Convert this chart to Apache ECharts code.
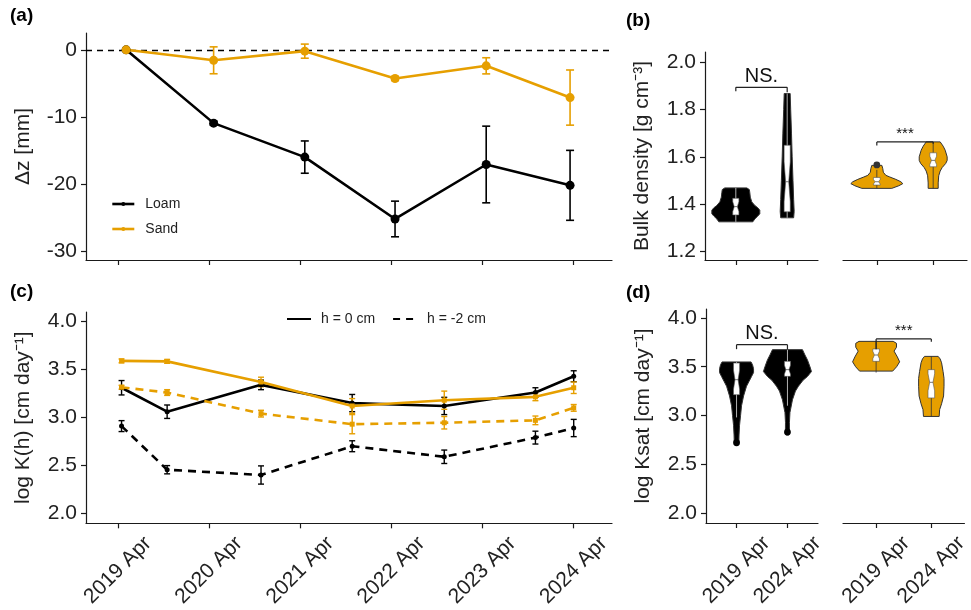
<!DOCTYPE html>
<html><head><meta charset="utf-8">
<script src="https://cdn.jsdelivr.net/npm/echarts@6/dist/echarts.min.js"></script>
<style>html,body{margin:0;padding:0;background:#fff}#c{width:971px;height:610px}</style>
</head><body><div id="c"></div>
<script>
// ---------- DATA ----------
// time axis: years since 2019 Apr
const yearTicks = [0, 1, 2, 3, 4, 5];
const yearLabels = ['2019 Apr', '2020 Apr', '2021 Apr', '2022 Apr', '2023 Apr', '2024 Apr'];
const dzTicks = [-30, -20, -10, 0];
const logTicks = [2.0, 2.5, 3.0, 3.5, 4.0];
const bdTicks = [1.2, 1.4, 1.6, 1.8, 2.0];
const facetTicks = [1, 2];
const facetLabels = ['2019 Apr', '2024 Apr'];

// (a) surface change
const dzTimes = [0.09, 1.05, 2.05, 3.04, 4.04, 4.96];
const dzLoam = [0, -10.9, -15.95, -25.15, -17.05, -20.15];
const dzLoamErr = [0, 0.3, 2.4, 2.65, 5.7, 5.2];
const dzSand = [0, -1.56, -0.2, -4.27, -2.38, -7.1];
const dzSandErr = [0, 2.0, 1.05, 0.3, 1.2, 4.1];

// (c) log K(h)
const khTimes = [0.04, 0.54, 1.57, 2.57, 3.58, 4.58, 5.0];
const khLoam0 = [3.31, 3.06, 3.34, 3.15, 3.12, 3.26, 3.43];
const khLoam0Err = [0.075, 0.07, 0.05, 0.09, 0.09, 0.05, 0.057];
const khSand0 = [3.59, 3.585, 3.37, 3.12, 3.18, 3.215, 3.31];
const khSand0Err = [0.02, 0.02, 0.05, 0.077, 0.095, 0.04, 0.06];
const khLoam2 = [2.91, 2.455, 2.40, 2.70, 2.59, 2.79, 2.89];
const khLoam2Err = [0.057, 0.043, 0.095, 0.057, 0.07, 0.067, 0.09];
const khSand2 = [3.315, 3.26, 3.04, 2.93, 2.945, 2.97, 3.10];
const khSand2Err = [0.02, 0.03, 0.035, 0.1, 0.065, 0.045, 0.035];

// (b) bulk density violins: profile values and half-widths (category units)
const bdLoam2019Y = [1.469, 1.462, 1.45, 1.43, 1.41, 1.395, 1.385, 1.375, 1.36, 1.35, 1.338, 1.326];
const bdLoam2019W = [0.214, 0.263, 0.272, 0.282, 0.311, 0.37, 0.428, 0.467, 0.467, 0.428, 0.37, 0.331];
const bdLoam2024Y = [1.867, 1.80, 1.70, 1.60, 1.50, 1.42, 1.37, 1.343];
const bdLoam2024W = [0.058, 0.068, 0.084, 0.097, 0.113, 0.126, 0.136, 0.126];
const bdSand2019Y = [1.564, 1.55, 1.535, 1.522, 1.515, 1.505, 1.495, 1.487, 1.478, 1.467];
const bdSand2019W = [0.089, 0.106, 0.115, 0.16, 0.23, 0.337, 0.426, 0.461, 0.39, 0.266];
const bdSand2024Y = [1.663, 1.645, 1.628, 1.60, 1.585, 1.572, 1.555, 1.54, 1.52, 1.49, 1.467];
const bdSand2024W = [0.124, 0.177, 0.213, 0.248, 0.248, 0.222, 0.16, 0.124, 0.098, 0.089, 0.089];
// box stats: [whisker low, q1, median, q3, whisker high]
const bdLoam2019Box = [1.326, 1.355, 1.39, 1.425, 1.469];
const bdLoam2024Box = [1.343, 1.368, 1.495, 1.649, 1.867];
const bdSand2019Box = [1.467, 1.481, 1.495, 1.513, 1.545];
const bdSand2024Box = [1.467, 1.558, 1.585, 1.617, 1.663];
const bdLoam2019Out = [];
const bdLoam2024Out = [];
const bdSand2019Out = [1.566];
const bdSand2024Out = [];
const bdSigText = ['NS.', '***'];
const bdSigY = [1.893, 1.663];
const bdSigLegL = [1.876, 1.648];
const bdSigLegR = [1.872, 1.655];

// (d) log Ksat violins
const ksLoam2019Y = [3.549, 3.52, 3.48, 3.44, 3.40, 3.35, 3.30, 3.20, 3.10, 3.00, 2.90, 2.80, 2.72, 2.70];
const ksLoam2019W = [0.285, 0.314, 0.334, 0.334, 0.295, 0.246, 0.196, 0.138, 0.098, 0.079, 0.059, 0.049, 0.045, 0.03];
const ksLoam2024Y = [3.675, 3.62, 3.57, 3.50, 3.45, 3.40, 3.36, 3.30, 3.25, 3.16, 3.03, 2.93, 2.85, 2.80];
const ksLoam2024W = [0.295, 0.344, 0.393, 0.442, 0.472, 0.393, 0.305, 0.216, 0.157, 0.098, 0.049, 0.039, 0.04, 0.03];
const ksSand2019Y = [3.76, 3.74, 3.70, 3.66, 3.60, 3.55, 3.50, 3.455];
const ksSand2019W = [0.31, 0.369, 0.369, 0.325, 0.385, 0.426, 0.372, 0.30];
const ksSand2024Y = [3.606, 3.58, 3.54, 3.45, 3.38, 3.30, 3.20, 3.12, 3.06, 2.99];
const ksSand2024W = [0.124, 0.16, 0.186, 0.213, 0.23, 0.23, 0.222, 0.186, 0.151, 0.142];
const ksLoam2019Box = [2.98, 3.213, 3.367, 3.538, 3.549];
const ksLoam2024Box = [3.10, 3.401, 3.47, 3.555, 3.675];
const ksSand2019Box = [3.44, 3.555, 3.62, 3.682, 3.76];
const ksSand2024Box = [2.99, 3.18, 3.34, 3.47, 3.606];
const ksLoam2019Out = [2.72];
const ksLoam2024Out = [2.83];
const ksSand2019Out = [];
const ksSand2024Out = [];
const ksSigText = ['NS.', '***'];
const ksSigY = [3.726, 3.785];
const ksSigLegL = [3.68, 3.68];
const ksSigLegR = [3.676, 3.755];

// ---------- STYLE ----------
const FONT = '"Liberation Sans", Arial, sans-serif';
const ORANGE = '#E69F00';
const INK = '#1a1a1a';
const LBL = '#222';

const chart = echarts.init(document.getElementById('c'), null, {renderer: 'canvas'});

function xTime(grid, showLabels) {
  return {
    type: 'value', gridIndex: grid, min: -0.35, max: 5.42,
    splitLine: {show: false},
    axisLine: {show: true, onZero: false, lineStyle: {color: INK, width: 1.2}},
    axisTick: {show: true, customValues: yearTicks, length: 5, lineStyle: {color: INK, width: 1.2}},
    axisLabel: {show: showLabels, customValues: yearTicks, rotate: 45, align: 'center', verticalAlign: 'middle',
      margin: 47, fontSize: 21, color: LBL, fontFamily: FONT,
      formatter: v => yearLabels[yearTicks.indexOf(Math.round(v))]}
  };
}
function xFacet(grid, showLabels) {
  return {
    type: 'value', gridIndex: grid, min: 0.4, max: 2.6,
    splitLine: {show: false},
    axisLine: {show: true, onZero: false, lineStyle: {color: INK, width: 1.2}},
    axisTick: {show: true, customValues: facetTicks, length: 5, lineStyle: {color: INK, width: 1.2}},
    axisLabel: {show: showLabels, customValues: facetTicks, rotate: 45, align: 'center', verticalAlign: 'middle',
      margin: 47, fontSize: 21, color: LBL, fontFamily: FONT,
      formatter: v => facetLabels[facetTicks.indexOf(Math.round(v))]}
  };
}
function yAx(grid, min, max, ticks, name, fmt, show) {
  return {
    type: 'value', gridIndex: grid, min: min, max: max, show: show !== false,
    name: name, nameLocation: 'middle', nameGap: 52, nameRotate: 90,
    nameTextStyle: {fontSize: 21, color: LBL, fontFamily: FONT},
    splitLine: {show: false},
    axisLine: {show: true, onZero: false, lineStyle: {color: INK, width: 1.2}},
    axisTick: {show: true, customValues: ticks, length: 5, lineStyle: {color: INK, width: 1.2}},
    axisLabel: {customValues: ticks, fontSize: 21, color: LBL, fontFamily: FONT, margin: 9, formatter: fmt}
  };
}

function errSeries(xi, yi, times, vals, errs, color, cap, lw) {
  const data = [];
  times.forEach((t, i) => { if (errs[i] > 0) data.push([t, vals[i] - errs[i], vals[i] + errs[i]]); });
  return {
    type: 'custom', xAxisIndex: xi, yAxisIndex: yi, silent: true, z: 3,
    encode: {x: 0, y: [1, 2]}, data: data,
    renderItem: function (params, api) {
      const x = api.value(0), lo = api.value(1), hi = api.value(2);
      const p1 = api.coord([x, lo]), p2 = api.coord([x, hi]);
      const st = {stroke: color, lineWidth: lw};
      return {type: 'group', children: [
        {type: 'line', shape: {x1: p1[0], y1: p1[1], x2: p2[0], y2: p2[1]}, style: st},
        {type: 'line', shape: {x1: p1[0] - cap, y1: p1[1], x2: p1[0] + cap, y2: p1[1]}, style: st},
        {type: 'line', shape: {x1: p2[0] - cap, y1: p2[1], x2: p2[0] + cap, y2: p2[1]}, style: st}
      ]};
    }
  };
}

function lineSeries(name, xi, yi, times, vals, color, dash, symbol, size, lw, extra) {
  return Object.assign({
    name: name, type: 'line', xAxisIndex: xi, yAxisIndex: yi, z: 4,
    data: times.map((t, i) => [t, vals[i]]),
    symbol: symbol, symbolSize: size, showSymbol: true,
    lineStyle: {color: color, width: lw, type: dash},
    itemStyle: {color: color},
    emphasis: {disabled: true}
  }, extra || {});
}

function violinSeries(xi, yi, violins, fill, whisk) {
  return {
    type: 'custom', xAxisIndex: xi, yAxisIndex: yi, silent: true, z: 2,
    encode: {x: 0}, data: violins.map((v, i) => [facetTicks[i], i]),
    renderItem: function (params, api) {
      const x = api.value(0), v = violins[api.value(1)];
      const pts = [];
      for (let k = 0; k < v.y.length; k++) pts.push(api.coord([x - v.w[k], v.y[k]]));
      for (let k = v.y.length - 1; k >= 0; k--) pts.push(api.coord([x + v.w[k], v.y[k]]));
      const b = v.box, h = 0.06;
      const iq = b[3] - b[1], nd = Math.min(iq * 0.3, (b[2] - b[1]), (b[3] - b[2]));
      const bp = [
        [x - h, b[1]], [x - h, b[2] - nd], [x - h / 2, b[2]], [x - h, b[2] + nd], [x - h, b[3]],
        [x + h, b[3]], [x + h, b[2] + nd], [x + h / 2, b[2]], [x + h, b[2] - nd], [x + h, b[1]]
      ].map(p => api.coord(p));
      const wl = api.coord([x, b[0]]), wh = api.coord([x, b[4]]);
      const m1 = api.coord([x - h / 2, b[2]]), m2 = api.coord([x + h / 2, b[2]]);
      const children = [
        {type: 'polygon', shape: {points: pts}, style: {fill: fill, stroke: '#333', lineWidth: 1}},
        {type: 'line', shape: {x1: wl[0], y1: wl[1], x2: wh[0], y2: wh[1]}, style: {stroke: whisk, lineWidth: 0.8}},
        {type: 'polygon', shape: {points: bp}, style: {fill: '#fff', stroke: '#555', lineWidth: 0.6}},
        {type: 'line', shape: {x1: m1[0], y1: m1[1], x2: m2[0], y2: m2[1]}, style: {stroke: '#555', lineWidth: 0.8}}
      ];
      v.out.forEach(o => {
        const c = api.coord([x, o]);
        children.push({type: 'circle', shape: {cx: c[0], cy: c[1], r: 3.4}, style: {fill: fill === '#000' ? '#000' : '#333'}});
      });
      return {type: 'group', children: children};
    }
  };
}

function sigSeries(xi, yi, k, texts, ys, legL, legR, fontSize) {
  return {
    type: 'custom', xAxisIndex: xi, yAxisIndex: yi, silent: true, z: 6,
    encode: {x: 0}, data: [[facetTicks[0], k]],
    renderItem: function (params, api) {
      const i = api.value(1);
      const a = api.coord([facetTicks[0], ys[i]]), b = api.coord([facetTicks[1], ys[i]]);
      const la = api.coord([facetTicks[0], legL[i]]), lb = api.coord([facetTicks[1], legR[i]]);
      const st = {stroke: '#222', lineWidth: 1.2};
      return {type: 'group', children: [
        {type: 'line', shape: {x1: a[0], y1: a[1], x2: b[0], y2: b[1]}, style: st},
        {type: 'line', shape: {x1: a[0], y1: a[1], x2: la[0], y2: la[1]}, style: st},
        {type: 'line', shape: {x1: b[0], y1: b[1], x2: lb[0], y2: lb[1]}, style: st},
        {type: 'text', x: (a[0] + b[0]) / 2, y: a[1] - 1,
          style: {text: texts[i], fill: '#111', font: fontSize + 'px ' + FONT, align: 'center', verticalAlign: 'bottom'}}
      ]};
    }
  };
}

const bdLoamV = [
  {y: bdLoam2019Y, w: bdLoam2019W, box: bdLoam2019Box, out: bdLoam2019Out},
  {y: bdLoam2024Y, w: bdLoam2024W, box: bdLoam2024Box, out: bdLoam2024Out}];
const bdSandV = [
  {y: bdSand2019Y, w: bdSand2019W, box: bdSand2019Box, out: bdSand2019Out},
  {y: bdSand2024Y, w: bdSand2024W, box: bdSand2024Box, out: bdSand2024Out}];
const ksLoamV = [
  {y: ksLoam2019Y, w: ksLoam2019W, box: ksLoam2019Box, out: ksLoam2019Out},
  {y: ksLoam2024Y, w: ksLoam2024W, box: ksLoam2024Box, out: ksLoam2024Out}];
const ksSandV = [
  {y: ksSand2019Y, w: ksSand2019W, box: ksSand2019Box, out: ksSand2019Out},
  {y: ksSand2024Y, w: ksSand2024W, box: ksSand2024Box, out: ksSand2024Out}];

const one = v => v.toFixed(1);

const option = {
  animation: false,
  backgroundColor: '#fff',
  textStyle: {fontFamily: FONT},
  grid: [
    {left: 86, top: 33, width: 526, height: 227},
    {left: 86, top: 312, width: 526, height: 212},
    {left: 705, top: 52, width: 113, height: 208},
    {left: 843, top: 52, width: 124, height: 208},
    {left: 706, top: 309, width: 112, height: 214},
    {left: 843, top: 309, width: 124, height: 214}
  ],
  xAxis: [xTime(0, false), xTime(1, true), xFacet(2, false), xFacet(3, false), xFacet(4, true), xFacet(5, true)],
  yAxis: [
    yAx(0, -31.25, 2.5, dzTicks, 'Δz [mm]', v => String(Math.round(v))),
    yAx(1, 1.896, 4.1, logTicks, 'log K(h) [cm day⁻¹]', one),
    yAx(2, 1.165, 2.042, bdTicks, 'Bulk density [g cm⁻³]', one),
    yAx(3, 1.165, 2.042, bdTicks, '', one, false),
    yAx(4, 1.897, 4.092, logTicks, 'log Ksat [cm day⁻¹]', one),
    yAx(5, 1.897, 4.092, logTicks, '', one, false)
  ],
  legend: [
    {data: ['Loam', 'Sand'], orient: 'vertical', left: 106, top: 192, itemWidth: 22, itemHeight: 5, itemGap: 11,
      lineStyle: {width: 2.6},
      textStyle: {fontSize: 14, color: LBL, fontFamily: FONT, padding: [0, 0, 0, 6]}, selectedMode: false},
    {data: ['h = 0 cm', 'h = -2 cm'], orient: 'horizontal', left: 281, top: 307, itemWidth: 24, itemHeight: 14, itemGap: 17,
      itemStyle: {opacity: 0},
      textStyle: {fontSize: 14, color: LBL, fontFamily: FONT, padding: [0, 0, 0, 5]}, selectedMode: false}
  ],
  series: [
    lineSeries('Loam', 0, 0, dzTimes, dzLoam, '#000', 'solid', 'circle', 9, 2.6, {
      markLine: {silent: true, symbol: 'none', label: {show: false}, z: 1,
        lineStyle: {color: '#000', type: [6, 5], width: 1.3}, data: [{yAxis: 0}]}
    }),
    lineSeries('Sand', 0, 0, dzTimes, dzSand, ORANGE, 'solid', 'circle', 9, 2.6),
    errSeries(0, 0, dzTimes, dzLoam, dzLoamErr, '#000', 4, 1.6),
    errSeries(0, 0, dzTimes, dzSand, dzSandErr, ORANGE, 4, 1.6),

    lineSeries('Loam0', 1, 1, khTimes, khLoam0, '#000', 'solid', 'circle', 5, 2.6),
    lineSeries('Loam2', 1, 1, khTimes, khLoam2, '#000', [8, 6], 'circle', 5, 2.6),
    lineSeries('Sand2', 1, 1, khTimes, khSand2, ORANGE, [8, 6], 'rect', 5, 2.6),
    lineSeries('Sand0', 1, 1, khTimes, khSand0, ORANGE, 'solid', 'rect', 5, 2.6),
    errSeries(1, 1, khTimes, khLoam0, khLoam0Err, '#000', 3, 1.4),
    errSeries(1, 1, khTimes, khLoam2, khLoam2Err, '#000', 3, 1.4),
    errSeries(1, 1, khTimes, khSand0, khSand0Err, ORANGE, 3, 1.4),
    errSeries(1, 1, khTimes, khSand2, khSand2Err, ORANGE, 3, 1.4),
    {name: 'h = 0 cm', type: 'line', xAxisIndex: 1, yAxisIndex: 1, data: [], symbol: 'none',
      lineStyle: {color: '#000', width: 3, type: 'solid'}, itemStyle: {color: '#000'}},
    {name: 'h = -2 cm', type: 'line', xAxisIndex: 1, yAxisIndex: 1, data: [], symbol: 'none',
      lineStyle: {color: '#000', width: 3, type: [7, 6]}, itemStyle: {color: '#000'}},

    violinSeries(2, 2, bdLoamV, '#000', '#ddd'),
    violinSeries(3, 3, bdSandV, ORANGE, '#333'),
    violinSeries(4, 4, ksLoamV, '#000', '#ddd'),
    violinSeries(5, 5, ksSandV, ORANGE, '#333'),
    sigSeries(2, 2, 0, bdSigText, bdSigY, bdSigLegL, bdSigLegR, 20),
    sigSeries(3, 3, 1, bdSigText, bdSigY, bdSigLegL, bdSigLegR, 15),
    sigSeries(4, 4, 0, ksSigText, ksSigY, ksSigLegL, ksSigLegR, 20),
    sigSeries(5, 5, 1, ksSigText, ksSigY, ksSigLegL, ksSigLegR, 15)
  ],
  graphic: [
    {type: 'text', left: 10, top: 6, style: {text: '(a)', font: 'bold 19px ' + FONT, fill: '#000'}},
    {type: 'text', left: 10, top: 282, style: {text: '(c)', font: 'bold 19px ' + FONT, fill: '#000'}},
    {type: 'text', left: 626, top: 11, style: {text: '(b)', font: 'bold 19px ' + FONT, fill: '#000'}},
    {type: 'text', left: 626, top: 283, style: {text: '(d)', font: 'bold 19px ' + FONT, fill: '#000'}}
  ]
};
chart.setOption(option);
</script>
</body></html>
